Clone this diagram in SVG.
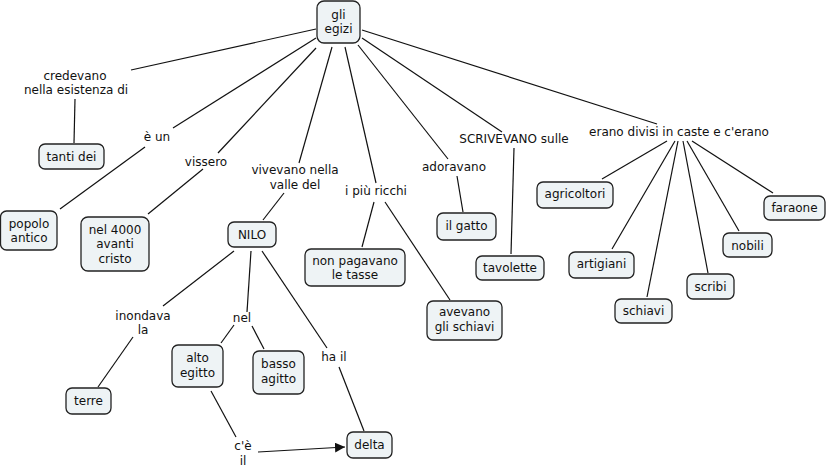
<svg xmlns="http://www.w3.org/2000/svg" width="828" height="468" viewBox="0 0 828 468">
<defs>
<style>
.n rect{fill:#eef3f5;stroke:#222;stroke-width:1.3}
text{font-family:"DejaVu Sans",Verdana,sans-serif;font-size:12px;fill:#111;text-anchor:middle}
.c line{stroke:#111;stroke-width:1.2}
</style>
<marker id="ah" viewBox="0 0 10 10" refX="10" refY="5" markerWidth="10" markerHeight="10" markerUnits="userSpaceOnUse" orient="auto"><path d="M0,0 L10,5 L0,10 z" fill="#111"/></marker>
</defs>
<rect width="828" height="468" fill="#fff"/>
<g id="connectors" class="c">
<line x1="316" y1="29" x2="131" y2="70"/>
<line x1="75" y1="99" x2="74" y2="143"/>
<line x1="316" y1="38" x2="173" y2="128"/>
<line x1="145" y1="147" x2="60" y2="209"/>
<line x1="316" y1="48" x2="218" y2="153"/>
<line x1="203" y1="169" x2="148" y2="214"/>
<line x1="332" y1="47" x2="299" y2="163"/>
<line x1="284" y1="193" x2="263" y2="220"/>
<line x1="345" y1="47" x2="376" y2="183"/>
<line x1="374" y1="202" x2="362" y2="247"/>
<line x1="385" y1="202" x2="450" y2="300"/>
<line x1="358" y1="45" x2="448" y2="159"/>
<line x1="457" y1="176" x2="463" y2="212"/>
<line x1="362" y1="38" x2="502" y2="132"/>
<line x1="514" y1="148" x2="511" y2="254"/>
<line x1="362" y1="30" x2="657" y2="124"/>
<line x1="667" y1="141" x2="602" y2="179"/>
<line x1="675" y1="141" x2="612" y2="249"/>
<line x1="678" y1="141" x2="647" y2="297"/>
<line x1="683" y1="141" x2="708" y2="273"/>
<line x1="687" y1="141" x2="739" y2="231"/>
<line x1="692" y1="141" x2="773" y2="193"/>
<line x1="234" y1="251" x2="163" y2="306"/>
<line x1="133" y1="337" x2="98" y2="387"/>
<line x1="251" y1="251" x2="247" y2="312"/>
<line x1="234" y1="325" x2="221" y2="343"/>
<line x1="252" y1="326" x2="264" y2="349"/>
<line x1="262" y1="251" x2="327" y2="348"/>
<line x1="339" y1="367" x2="364" y2="431"/>
<line x1="211" y1="391" x2="236" y2="437"/>
<line x1="258" y1="452" x2="345" y2="447" marker-end="url(#ah)"/>
</g>
<g id="link-labels">
<text x="75" y="80">credevano</text>
<text x="76" y="94">nella esistenza di</text>
<text x="157" y="141">è un</text>
<text x="206" y="166">vissero</text>
<text x="295" y="174">vivevano nella</text>
<text x="295" y="189">valle del</text>
<text x="376" y="195">i più ricchi</text>
<text x="454" y="171">adoravano</text>
<text x="514" y="143">SCRIVEVANO sulle</text>
<text x="679" y="136">erano divisi in caste e c'erano</text>
<text x="143" y="320">inondava</text>
<text x="143" y="334">la</text>
<text x="242" y="322">nel</text>
<text x="334" y="361">ha il</text>
<text x="243" y="450">c'è</text>
<text x="243" y="465">il</text>
</g>
<g id="gli-egizi" class="n"><rect x="317" y="1" width="43" height="42" rx="7"/><text x="338.5" y="19">gli</text><text x="338.5" y="33">egizi</text></g>
<g id="tanti-dei" class="n"><rect x="39" y="144" width="65" height="25" rx="6"/><text x="71.5" y="161">tanti dei</text></g>
<g id="popolo-antico" class="n"><rect x="0.5" y="211" width="56.5" height="39" rx="6"/><text x="29" y="228">popolo</text><text x="29" y="242">antico</text></g>
<g id="nel-4000" class="n"><rect x="81" y="217" width="68" height="54" rx="7"/><text x="115" y="234">nel 4000</text><text x="115" y="248">avanti</text><text x="115" y="263">cristo</text></g>
<g id="nilo" class="n"><rect x="228" y="222" width="48" height="25" rx="6"/><text x="252" y="239">NILO</text></g>
<g id="non-pagavano" class="n"><rect x="305" y="249" width="100" height="37" rx="6"/><text x="355" y="265">non pagavano</text><text x="355" y="279">le tasse</text></g>
<g id="avevano" class="n"><rect x="427" y="301" width="75" height="39" rx="6"/><text x="464.5" y="316">avevano</text><text x="464.5" y="331">gli schiavi</text></g>
<g id="il-gatto" class="n"><rect x="437" y="213" width="59" height="27" rx="6"/><text x="466.5" y="230">il gatto</text></g>
<g id="tavolette" class="n"><rect x="476" y="256" width="68" height="24" rx="6"/><text x="510" y="272">tavolette</text></g>
<g id="agricoltori" class="n"><rect x="537" y="182" width="76" height="26" rx="6"/><text x="575" y="198">agricoltori</text></g>
<g id="artigiani" class="n"><rect x="569" y="252" width="65" height="26" rx="6"/><text x="601.5" y="268">artigiani</text></g>
<g id="schiavi" class="n"><rect x="615" y="299" width="57" height="24" rx="6"/><text x="643.5" y="315">schiavi</text></g>
<g id="scribi" class="n"><rect x="687" y="274" width="47" height="25" rx="6"/><text x="710.5" y="291">scribi</text></g>
<g id="nobili" class="n"><rect x="723" y="233" width="49" height="24" rx="6"/><text x="747.5" y="250">nobili</text></g>
<g id="faraone" class="n"><rect x="764" y="196" width="61" height="24" rx="6"/><text x="794.5" y="212">faraone</text></g>
<g id="terre" class="n"><rect x="66" y="388" width="45" height="26" rx="6"/><text x="88.5" y="405">terre</text></g>
<g id="alto-egitto" class="n"><rect x="172" y="345" width="51" height="42" rx="6"/><text x="197.5" y="362">alto</text><text x="197.5" y="377">egitto</text></g>
<g id="basso-agitto" class="n"><rect x="253" y="351" width="51" height="43" rx="6"/><text x="278.5" y="368">basso</text><text x="278.5" y="383">agitto</text></g>
<g id="delta" class="n"><rect x="347" y="432" width="45" height="26" rx="6"/><text x="369.5" y="449">delta</text></g>
</svg>
